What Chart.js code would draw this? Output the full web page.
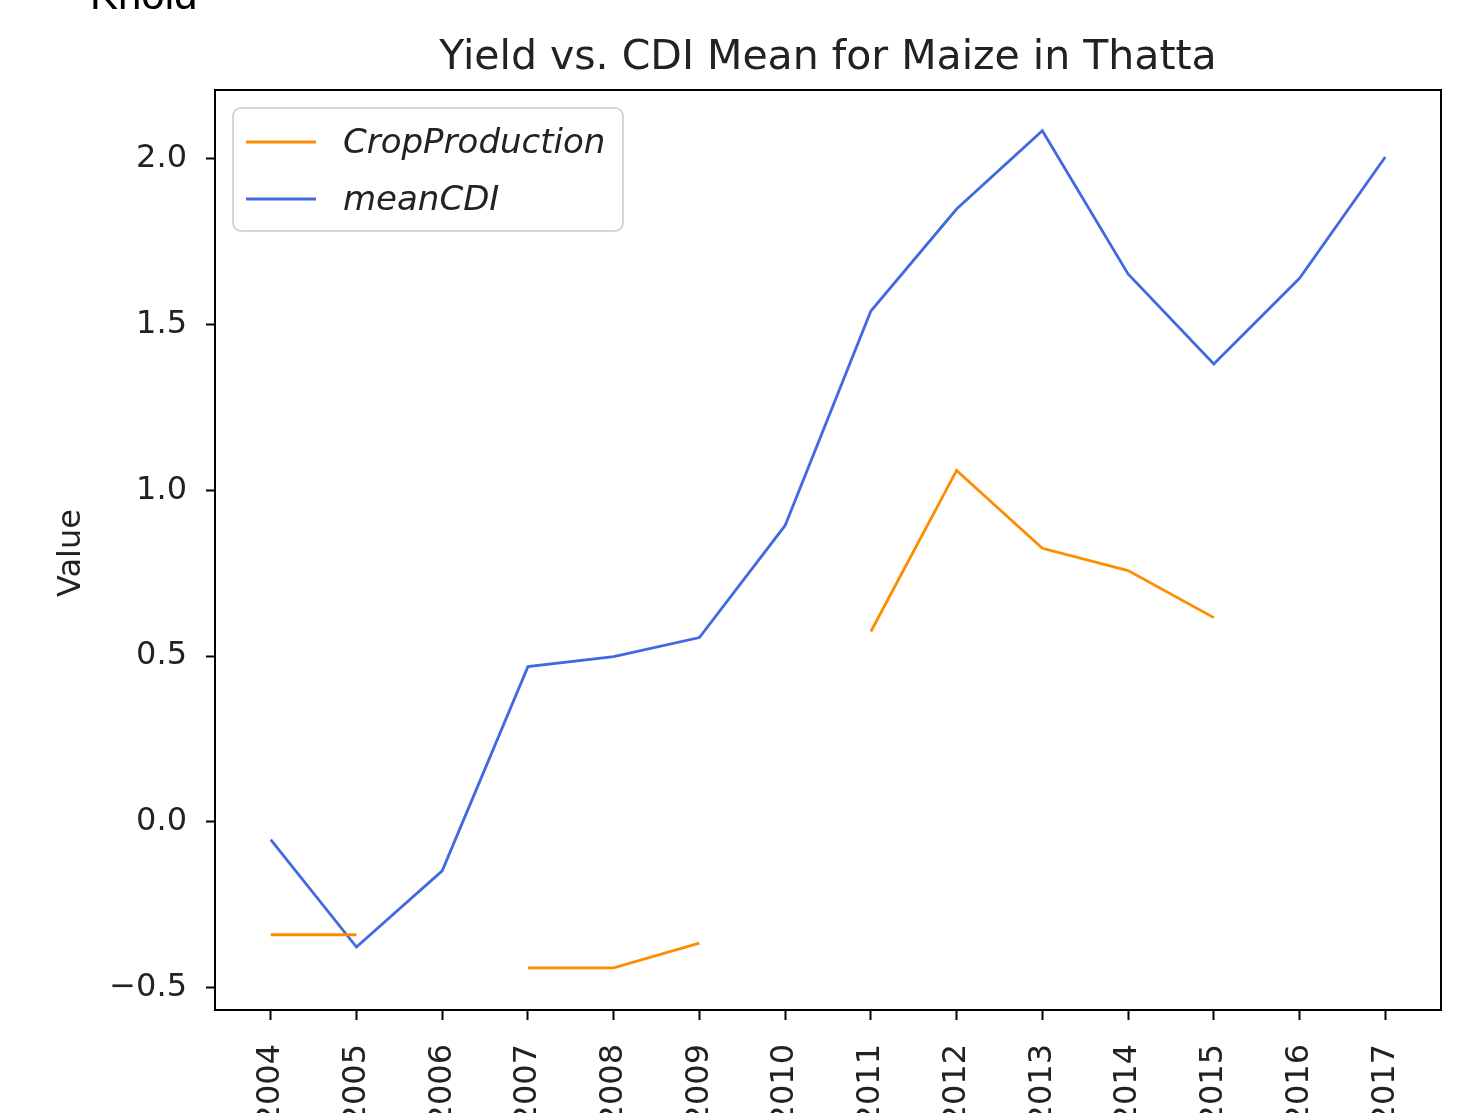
<!DOCTYPE html>
<html>
<head>
<meta charset="utf-8">
<script src="https://cdn.jsdelivr.net/npm/chart.js@4.4.1/dist/chart.umd.min.js"></script>
<style>
  html, body { margin: 0; padding: 0; background: #fff; }
  #wrap { width: 1466px; height: 1113px; }
</style>
</head>
<body>
<div id="wrap"><canvas id="chart" width="1466" height="1113"></canvas></div>
<script>
// Yield vs. CDI Mean for Maize in Thatta

const YEARS = [2004, 2005, 2006, 2007, 2008, 2009, 2010, 2011, 2012, 2013, 2014, 2015, 2016, 2017];
const CROP_PRODUCTION = [-0.341, -0.341, null, -0.441, -0.441, -0.366, null, 0.574, 1.060, 0.825, 0.758, 0.616, null, null];
const MEAN_CDI = [-0.054, -0.378, -0.148, 0.468, 0.498, 0.556, 0.894, 1.541, 1.849, 2.085, 1.653, 1.381, 1.640, 2.006];
const Y_TICKS = [-0.5, 0.0, 0.5, 1.0, 1.5, 2.0];

const FONT = "'DejaVu Sans', sans-serif";

const toPoints = arr => YEARS.map((x, i) => ({ x, y: arr[i] }));

// title, y label, frame, legend and the cut-off caption above
const decorations = {
  id: 'decorations',
  afterDraw(chart) {
    const ctx = chart.ctx;
    const a = chart.chartArea;
    ctx.save();

    // caption cut off at the top of the picture
    ctx.fillStyle = '#000';
    ctx.font = "42px 'Liberation Sans', Arial, sans-serif";
    ctx.textAlign = 'left';
    ctx.textBaseline = 'alphabetic';
    ctx.fillText('Khoid', 90, 9);

    // title
    ctx.fillStyle = '#222';
    ctx.font = '41px ' + FONT;
    ctx.textAlign = 'center';
    ctx.textBaseline = 'alphabetic';
    ctx.fillText('Yield vs. CDI Mean for Maize in Thatta', (a.left + a.right) / 2, 69);

    // y axis label
    ctx.save();
    ctx.translate(72, (a.top + a.bottom) / 2 + 3);
    ctx.rotate(-Math.PI / 2);
    ctx.font = '32px ' + FONT;
    ctx.textAlign = 'center';
    ctx.textBaseline = 'middle';
    ctx.fillText('Value', 0, 0);
    ctx.restore();

    // frame
    ctx.strokeStyle = '#000';
    ctx.lineWidth = 2;
    ctx.strokeRect(a.left, a.top, a.right - a.left, a.bottom - a.top);

    // legend
    const lx = a.left + 18, ly = a.top + 18, lw = 390, lh = 123, r = 8;
    ctx.beginPath();
    ctx.roundRect(lx, ly, lw, lh, r);
    ctx.fillStyle = 'rgba(255,255,255,0.8)';
    ctx.fill();
    ctx.strokeStyle = '#d6d6d6';
    ctx.lineWidth = 2;
    ctx.stroke();
    ctx.font = 'italic 34px ' + FONT;
    ctx.textAlign = 'left';
    ctx.textBaseline = 'middle';
    chart.data.datasets.forEach((ds, i) => {
      const y = ly + 34 + i * 57;
      ctx.strokeStyle = ds.borderColor;
      ctx.lineWidth = ds.borderWidth;
      ctx.beginPath();
      ctx.moveTo(lx + 13, y);
      ctx.lineTo(lx + 83, y);
      ctx.stroke();
      ctx.fillStyle = '#222';
      ctx.fillText(ds.label, lx + 110, y + 2);
    });

    ctx.restore();
  }
};

new Chart(document.getElementById('chart'), {
  type: 'line',
  data: {
    datasets: [
      { label: 'CropProduction', data: toPoints(CROP_PRODUCTION), borderColor: '#ff8c00', borderWidth: 2.8, pointRadius: 0, spanGaps: false, tension: 0 },
      { label: 'meanCDI', data: toPoints(MEAN_CDI), borderColor: '#4169e1', borderWidth: 2.8, pointRadius: 0, spanGaps: false, tension: 0 },
    ]
  },
  options: {
    responsive: false,
    animation: false,
    layout: { padding: { left: 0, right: 25, top: 90, bottom: 0 } },
    plugins: { legend: { display: false }, title: { display: false }, tooltip: { enabled: false } },
    scales: {
      x: {
        type: 'linear',
        min: 2003.35,
        max: 2017.65,
        afterBuildTicks: s => { s.ticks = YEARS.map(v => ({ value: v })); },
        afterFit: s => { s.height = 103; },
        grid: { drawOnChartArea: false, drawTicks: true, tickLength: 10, tickColor: '#000', tickWidth: 2 },
        border: { display: false },
        ticks: {
          color: '#222', font: { family: FONT, size: 32 }, padding: 24,
          minRotation: 90, maxRotation: 90, autoSkip: false,
          callback: v => String(v)
        }
      },
      y: {
        min: -0.568,
        max: 2.208,
        afterBuildTicks: s => { s.ticks = Y_TICKS.map(v => ({ value: v })); },
        afterFit: s => { s.width = 215; },
        grid: { drawOnChartArea: false, drawTicks: true, tickLength: 9, tickColor: '#000', tickWidth: 2 },
        border: { display: false },
        ticks: {
          color: '#222', font: { family: FONT, size: 32 }, padding: 19,
          callback: v => v.toFixed(1).replace('-', '\u2212')
        }
      }
    }
  },
  plugins: [decorations]
});
</script>
</body>
</html>
